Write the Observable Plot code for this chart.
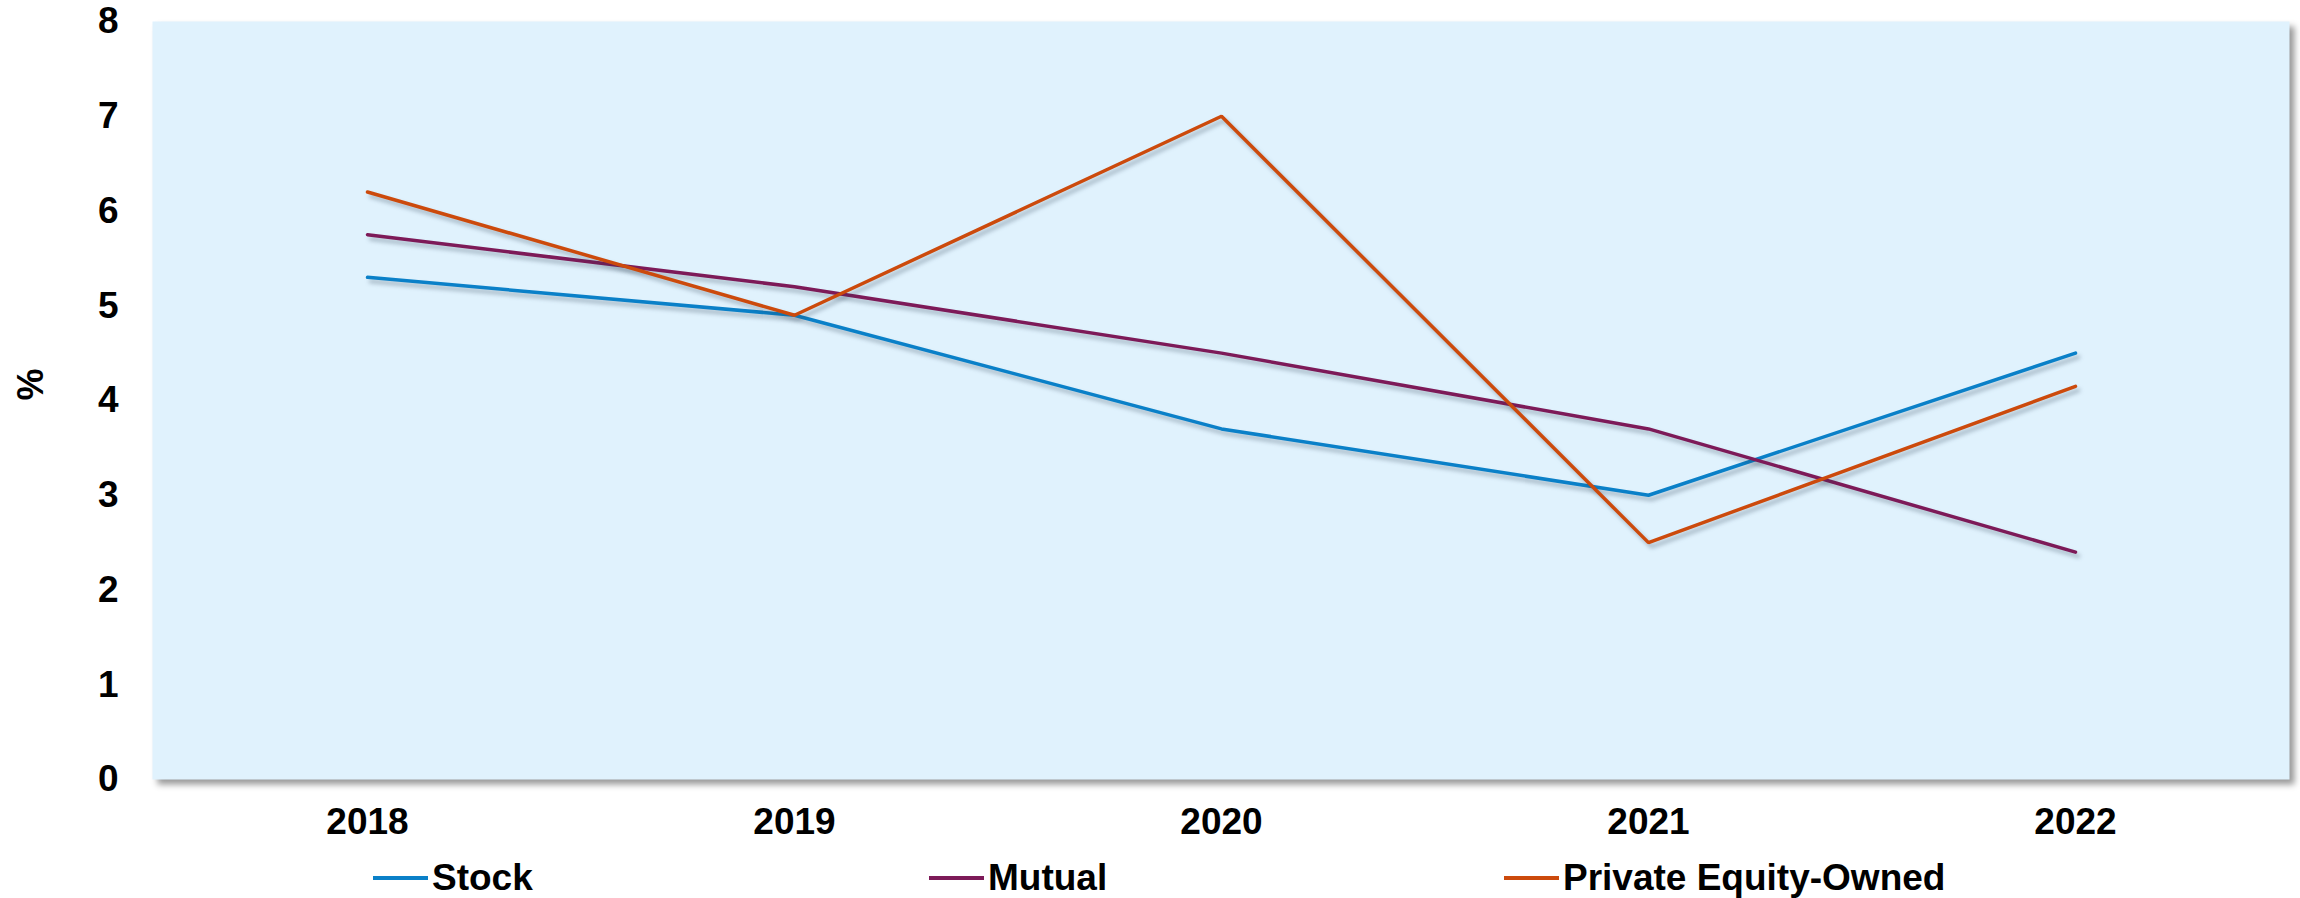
<!DOCTYPE html>
<html>
<head>
<meta charset="utf-8">
<script src="https://cdn.jsdelivr.net/npm/d3@7"></script>
<script src="https://cdn.jsdelivr.net/npm/@observablehq/plot@0.6"></script>
<style>
  html, body { margin: 0; padding: 0; background: #fff; }
  body { width: 2300px; height: 898px; position: relative; overflow: hidden; font-family: "Liberation Sans", Arial, sans-serif; }
  #chart svg [aria-label="frame"] { filter: drop-shadow(5px 5px 3px rgba(0,0,0,0.4)); }
  #chart svg g[aria-label="line"] path { filter: drop-shadow(3px 4px 2px rgba(40,60,80,0.35)); }
  #legend { position: absolute; left: 0; top: 858px; width: 2300px; height: 40px; }
  .item { position: absolute; top: 0; height: 40px; display: flex; align-items: center; }
  .swatch { width: 55px; height: 4px; margin-right: 4px; }
  .lab { font-size: 37px; font-weight: bold; color: #000; line-height: 40px; }
</style>
</head>
<body>
<div id="chart"></div>
<div id="legend"></div>
<script>
const years = ["2018", "2019", "2020", "2021", "2022"];
const seriesNames = ["Stock", "Mutual", "Private Equity-Owned"];
const stock = [5.3, 4.9, 3.7, 3.0, 4.5];
const mutual = [5.75, 5.2, 4.5, 3.7, 2.4];
const privateEquity = [6.2, 4.9, 7.0, 2.5, 4.15];
const colors = ["#0a80c8", "#7d1a58", "#cc4a0c"];
const yTicks = [0, 1, 2, 3, 4, 5, 6, 7, 8];
const yLabel = "%";

const valuesBySeries = [stock, mutual, privateEquity];
const data = [];
seriesNames.forEach((s, i) => years.forEach((y, j) => data.push({series: s, year: y, value: valuesBySeries[i][j]})));

const chart = Plot.plot({
  width: 2300,
  height: 858,
  marginLeft: 152,
  marginRight: 11,
  marginTop: 21,
  marginBottom: 79,
  style: {fontFamily: "'Liberation Sans', Arial, sans-serif", background: "transparent"},
  x: {type: "point", domain: years, padding: 0.5},
  y: {domain: [0, 8]},
  color: {domain: seriesNames, range: colors},
  marks: [
    Plot.frame({fill: "#e0f2fd", stroke: null}),
    Plot.axisY({ticks: yTicks, tickSize: 0, tickPadding: 34, fontSize: 37, fontWeight: "bold", label: null, tickFormat: d => String(d)}),
    Plot.axisX({tickSize: 0, tickPadding: 28, fontSize: 37, fontWeight: "bold", label: null}),
    Plot.text([yLabel], {frameAnchor: "left", dx: -121, text: d => d, rotate: -90, fontSize: 36, fontWeight: "bold", fill: "#000"}),
    Plot.line(data, {x: "year", y: "value", z: "series", stroke: "series", strokeWidth: 3.5, strokeLinejoin: "miter", strokeLinecap: "round"})
  ]
});
document.getElementById("chart").appendChild(chart);

const legendLefts = [373, 929, 1504];
const legend = document.getElementById("legend");
seriesNames.forEach((s, i) => {
  const item = document.createElement("div");
  item.className = "item";
  item.style.left = legendLefts[i] + "px";
  const sw = document.createElement("div");
  sw.className = "swatch";
  sw.style.background = colors[i];
  const lab = document.createElement("span");
  lab.className = "lab";
  lab.textContent = s;
  item.appendChild(sw);
  item.appendChild(lab);
  legend.appendChild(item);
});
</script>
</body>
</html>
